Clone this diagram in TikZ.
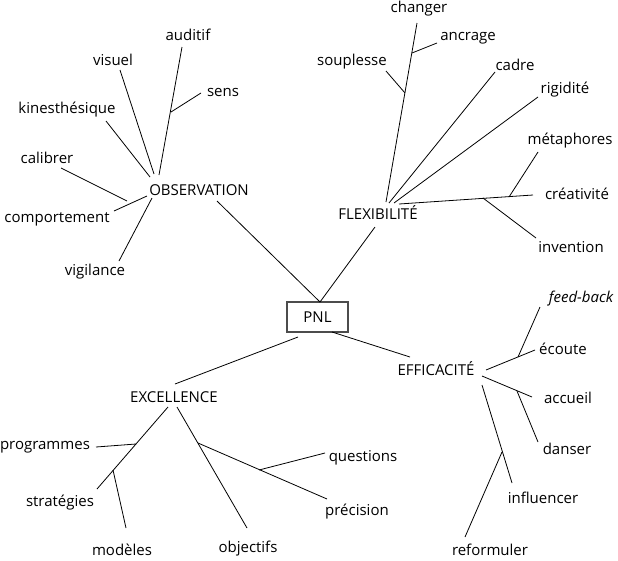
\documentclass[tikz,border=0pt]{standalone}
\usepackage{fontspec}
\setmainfont{Open Sans}
\usetikzlibrary{positioning}
\tikzset{word/.style = {inner sep = 0pt, font = \fontsize{15}{17}\selectfont},
         root/.style = {draw, draw=black!70, line width = 1.1pt, minimum width = 61pt, minimum height = 30pt, inner sep = 0pt, font = \fontsize{15}{17}\selectfont},
         link/.style = {line width = 0.8pt},
         input/.style = {coordinate},
}

\begin{document}
\begin{tikzpicture}[x = 1pt, y = -1pt]
  \useasboundingbox (0,0) rectangle (618,560);

  % centre
  \node[root] (PNL) at (317.5,317) {PNL};
  \node[word] (OBS)  at (199,190) {OBSERVATION};
  \node[word] (FLEX) at (378,213) {FLEXIBILIT\'E};
  \node[word] (EXC)  at (174,397) {EXCELLENCE};
  \node[word] (EFF)  at (436,369) {EFFICACIT\'E};

  % observation
  \node[word] (AUD)  at (188,35)  {auditif};
  \node[word] (SENS) at (223,92)  {sens};
  \node[word] (VIS)  at (113,60)  {visuel};
  \node[word] (KIN)  at (67,110)  {kinesth\'esique};
  \node[word] (CAL)  at (47,158)  {calibrer};
  \node[word] (COMP) at (57,219)  {comportement};
  \node[word] (VIG)  at (95,272)  {vigilance};

  % flexibilite
  \node[word] (CHG)  at (419,9)   {changer};
  \node[word] (ANC)  at (468,38)  {ancrage};
  \node[word] (SOU)  at (352,62)  {souplesse};
  \node[word] (CAD)  at (515,65)  {cadre};
  \node[word] (RIG)  at (565,90)  {rigidit\'e};
  \node[word] (MET)  at (570,141) {m\'etaphores};
  \node[word] (CRE)  at (577,194) {cr\'eativit\'e};
  \node[word] (INV)  at (571,247) {invention};

  % excellence
  \node[word] (PROG) at (45,447)  {programmes};
  \node[word] (STRA) at (60,503)  {strat\'egies};
  \node[word] (MOD)  at (122,550) {mod\`eles};
  \node[word] (OBJ)  at (248,549) {objectifs};
  \node[word] (QUES) at (363,458) {questions};
  \node[word] (PREC) at (357,512) {pr\'ecision};

  % efficacite
  \node[word] (FB)   at (581,299) {\itshape feed-back};
  \node[word] (ECO)  at (563,349) {\'ecoute};
  \node[word] (ACC)  at (568,398) {accueil};
  \node[word] (DAN)  at (567,449) {danser};
  \node[word] (INF)  at (543,498) {influencer};
  \node[word] (REF)  at (490,550) {reformuler};

  % end points
  \node[input, name = pnlTop] at (320,302) {};
  \node[input, name = pnlExc] at (298,337) {};
  \node[input, name = pnlEff] at (332,332) {};

  \node[input, name = coor1]  at (159,175) {};
  \node[input, name = coor2]  at (182,47)  {};
  \node[input, name = coor3]  at (171,112) {};
  \node[input, name = coor4]  at (201,93)  {};
  \node[input, name = coor5]  at (120,70)  {};
  \node[input, name = coor6]  at (154,174) {};
  \node[input, name = coor7]  at (106,121) {};
  \node[input, name = coor8]  at (150,177) {};
  \node[input, name = coor9]  at (61,168)  {};
  \node[input, name = coor10] at (127,201) {};
  \node[input, name = coor11] at (114,211) {};
  \node[input, name = coor12] at (147,196) {};
  \node[input, name = coor13] at (119,261) {};
  \node[input, name = coor14] at (152,198) {};
  \node[input, name = coor15] at (217,201) {};

  \node[input, name = coor16] at (375,227) {};
  \node[input, name = coor17] at (417,23)  {};
  \node[input, name = coor18] at (386,202) {};
  \node[input, name = coor19] at (412,53)  {};
  \node[input, name = coor20] at (437,43)  {};
  \node[input, name = coor21] at (405,93)  {};
  \node[input, name = coor22] at (386,71)  {};
  \node[input, name = coor23] at (495,72)  {};
  \node[input, name = coor24] at (389,203) {};
  \node[input, name = coor25] at (538,97)  {};
  \node[input, name = coor26] at (394,203) {};
  \node[input, name = coor27] at (533,195) {};
  \node[input, name = coor28] at (399,204) {};
  \node[input, name = coor29] at (509,197) {};
  \node[input, name = coor30] at (538,152) {};
  \node[input, name = coor31] at (483,198) {};
  \node[input, name = coor32] at (536,238) {};

  \node[input, name = coor33] at (175,384) {};
  \node[input, name = coor34] at (168,407) {};
  \node[input, name = coor35] at (97,489)  {};
  \node[input, name = coor36] at (136,444) {};
  \node[input, name = coor37] at (96,447)  {};
  \node[input, name = coor38] at (113,470) {};
  \node[input, name = coor39] at (126,528) {};
  \node[input, name = coor40] at (177,407) {};
  \node[input, name = coor41] at (247,528) {};
  \node[input, name = coor42] at (198,443) {};
  \node[input, name = coor43] at (327,499) {};
  \node[input, name = coor44] at (259,470) {};
  \node[input, name = coor45] at (325,453) {};

  \node[input, name = coor46] at (410,357) {};
  \node[input, name = coor47] at (486,370) {};
  \node[input, name = coor48] at (535,350) {};
  \node[input, name = coor49] at (518,357) {};
  \node[input, name = coor50] at (540,307) {};
  \node[input, name = coor51] at (482,376) {};
  \node[input, name = coor52] at (532,397) {};
  \node[input, name = coor53] at (517,391) {};
  \node[input, name = coor54] at (538,442) {};
  \node[input, name = coor55] at (482,385) {};
  \node[input, name = coor56] at (512,483) {};
  \node[input, name = coor57] at (502,452) {};
  \node[input, name = coor58] at (465,537) {};

  % branches
  \draw[link] (coor15) -- (pnlTop);
  \draw[link] (coor16) -- (pnlTop);
  \draw[link] (pnlExc) -- (coor33);
  \draw[link] (pnlEff) -- (coor46);

  \draw[link] (coor1) -- (coor2);
  \draw[link] (coor3) -- (coor4);
  \draw[link] (coor5) -- (coor6);
  \draw[link] (coor7) -- (coor8);
  \draw[link] (coor9) -- (coor10);
  \draw[link] (coor11) -- (coor12);
  \draw[link] (coor13) -- (coor14);

  \draw[link] (coor17) -- (coor18);
  \draw[link] (coor19) -- (coor20);
  \draw[link] (coor21) -- (coor22);
  \draw[link] (coor23) -- (coor24);
  \draw[link] (coor25) -- (coor26);
  \draw[link] (coor27) -- (coor28);
  \draw[link] (coor29) -- (coor30);
  \draw[link] (coor31) -- (coor32);

  \draw[link] (coor34) -- (coor35);
  \draw[link] (coor36) -- (coor37);
  \draw[link] (coor38) -- (coor39);
  \draw[link] (coor40) -- (coor41);
  \draw[link] (coor42) -- (coor43);
  \draw[link] (coor44) -- (coor45);

  \draw[link] (coor47) -- (coor48);
  \draw[link] (coor49) -- (coor50);
  \draw[link] (coor51) -- (coor52);
  \draw[link] (coor53) -- (coor54);
  \draw[link] (coor55) -- (coor56);
  \draw[link] (coor57) -- (coor58);

\end{tikzpicture}
\end{document}
